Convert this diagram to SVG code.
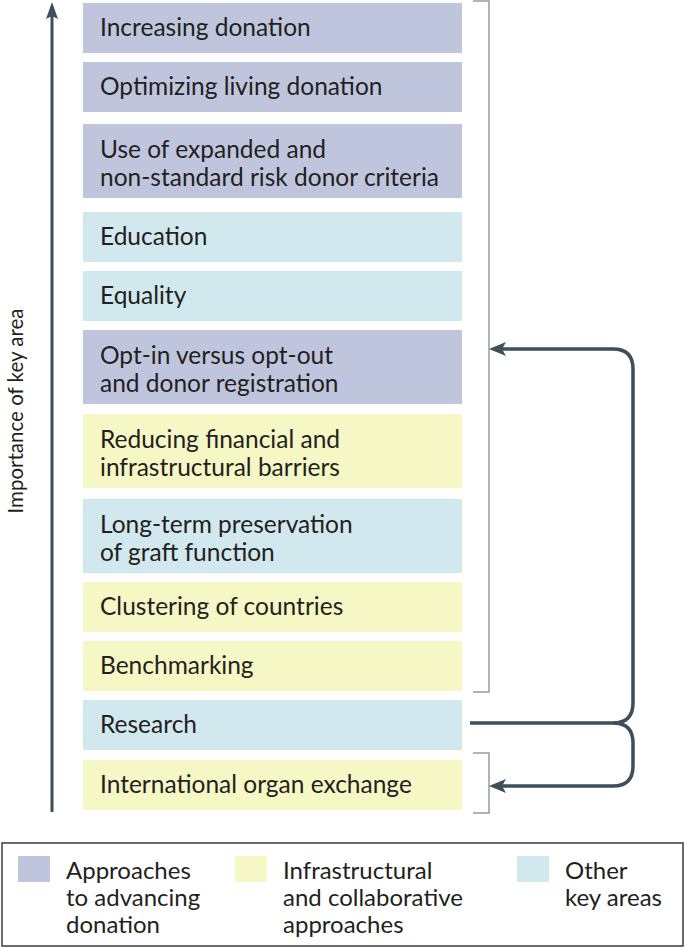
<svg xmlns="http://www.w3.org/2000/svg" width="685" height="948" viewBox="0 0 685 948">
<style>
.box{stroke:none}
.p{fill:#c0c5de}
.y{fill:#f5f7c5}
.b{fill:#d2e8ef}
text{font-family:Lato,"Open Sans",sans-serif;font-size:24.5px;fill:#231f20}
.ax{font-size:20.5px}
.lg{font-size:24px}
.br{fill:none;stroke:#9a9a9a;stroke-width:1.5}
.ar{fill:none;stroke:#3d4f5c;stroke-width:3.5}
.ah{fill:#3d4f5c}
</style>
<rect width="685" height="948" fill="#fff"/>
<g id="axis">
<line x1="52" y1="812" x2="52" y2="14" stroke="#3d4f5c" stroke-width="3"/>
<path d="M52,2 L46,19 L52,16 L58,19 Z" fill="#3d4f5c"/>
<text class="ax" transform="translate(23,411) rotate(-90)" text-anchor="middle">Importance of key area</text>
</g>
<g id="n1"><rect class="box p" x="83" y="3" width="379" height="50"/><text x="100" y="36">Increasing donation</text></g>
<g id="n2"><rect class="box p" x="83" y="62" width="379" height="50"/><text x="100" y="95">Optimizing living donation</text></g>
<g id="n3"><rect class="box p" x="83" y="124" width="379" height="74"/><text x="100" y="158">Use of expanded and</text><text x="100" y="186">non-standard risk donor criteria</text></g>
<g id="n4"><rect class="box b" x="83" y="212" width="379" height="50"/><text x="100" y="245">Education</text></g>
<g id="n5"><rect class="box b" x="83" y="271" width="379" height="50"/><text x="100" y="304">Equality</text></g>
<g id="n6"><rect class="box p" x="83" y="330" width="379" height="74"/><text x="100" y="364">Opt-in versus opt-out</text><text x="100" y="392">and donor registration</text></g>
<g id="n7"><rect class="box y" x="83" y="414" width="379" height="74"/><text x="100" y="448">Reducing financial and</text><text x="100" y="476">infrastructural barriers</text></g>
<g id="n8"><rect class="box b" x="83" y="499" width="379" height="74"/><text x="100" y="533">Long-term preservation</text><text x="100" y="561">of graft function</text></g>
<g id="n9"><rect class="box y" x="83" y="582" width="379" height="50"/><text x="100" y="615">Clustering of countries</text></g>
<g id="n10"><rect class="box y" x="83" y="641" width="379" height="50"/><text x="100" y="674">Benchmarking</text></g>
<g id="n11"><rect class="box b" x="83" y="700" width="379" height="50"/><text x="100" y="733">Research</text></g>
<g id="n12"><rect class="box y" x="83" y="760" width="379" height="50"/><text x="100" y="793">International organ exchange</text></g>
<g id="connectors">
<path class="br" d="M473,1 H489 V692 H473"/>
<path class="br" d="M473,753 H489 V813 H473"/>
<path class="ar" d="M470,723 H613 Q633,723 633,703 V369 Q633,349 613,349 H500"/>
<path class="ah" d="M489,349 L506,342 L502,349 L506,356 Z"/>
<path class="ar" d="M613,723 Q633,723 633,743 V766 Q633,786 613,786 H500"/>
<path class="ah" d="M489,786 L506,779 L502,786 L506,793 Z"/>
</g>
<g id="legend">
<rect x="2" y="843" width="681" height="103" fill="none" stroke="#3a3a3a" stroke-width="1.5"/>
<rect class="p" x="18" y="856" width="32" height="26"/>
<text class="lg" x="66" y="879">Approaches</text><text class="lg" x="66" y="906">to advancing</text><text class="lg" x="66" y="933">donation</text>
<rect class="y" x="235" y="856" width="32" height="26"/>
<text class="lg" x="283" y="879">Infrastructural</text><text class="lg" x="283" y="906">and collaborative</text><text class="lg" x="283" y="933">approaches</text>
<rect class="b" x="517" y="856" width="32" height="26"/>
<text class="lg" x="565" y="879">Other</text><text class="lg" x="565" y="906">key areas</text>
</g>
</svg>
